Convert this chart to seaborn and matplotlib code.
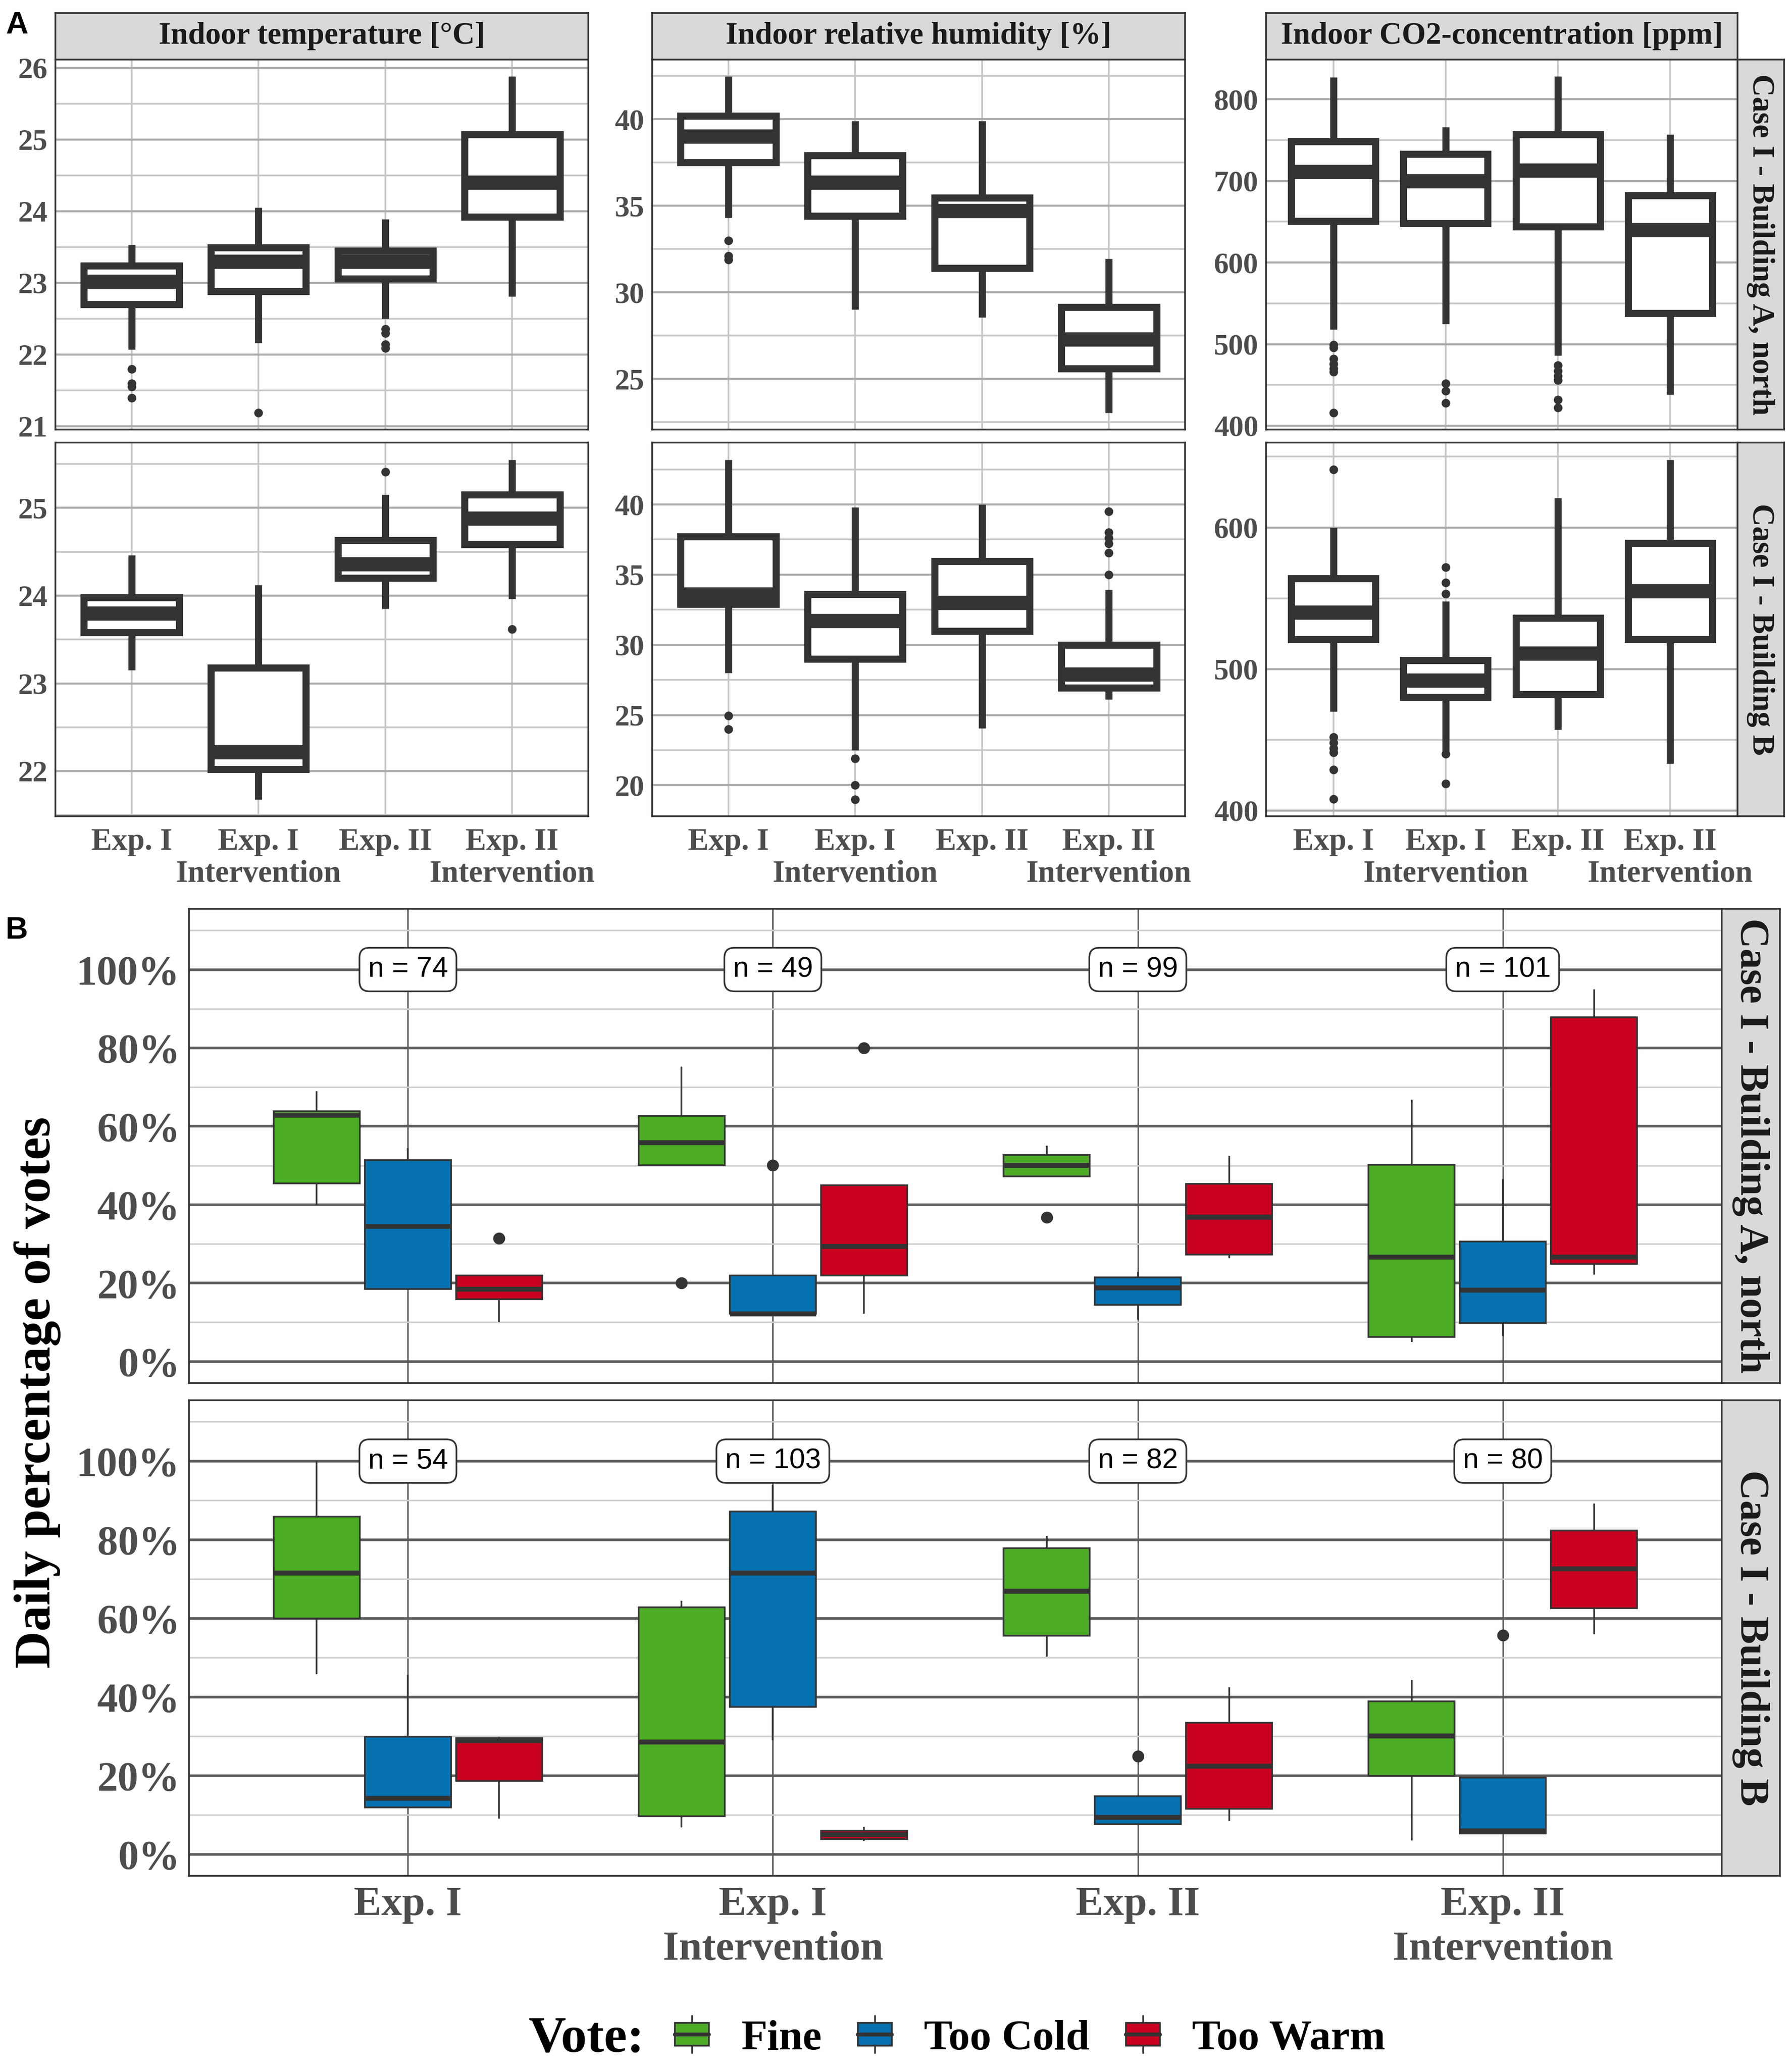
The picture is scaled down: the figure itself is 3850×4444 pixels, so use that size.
import numpy as np
import pandas as pd
import matplotlib
matplotlib.use('Agg')
import matplotlib.pyplot as plt
import seaborn as sns
from matplotlib.ticker import MultipleLocator, FixedLocator, FuncFormatter, FormatStrFormatter
from matplotlib.patches import Rectangle
from matplotlib.lines import Line2D
from matplotlib.legend_handler import HandlerBase

# ---------------------------------------------------------------- data
PHASES = ['Exp. I', 'Exp. I\nIntervention', 'Exp. II', 'Exp. II\nIntervention']
BUILDINGS = ['Case I - Building A, north', 'Case I - Building B']
VARIABLES = ['Indoor temperature [°C]', 'Indoor relative humidity [%]',
             'Indoor CO2-concentration [ppm]']
VOTES = ['Fine', 'Too Cold', 'Too Warm']
VOTE_COLORS = ['#4DAC26', '#0571B0', '#CA0020']

# box summaries per phase: (whisker low, q1, median, q3, whisker high)
temp_a = [(22.07, 22.70, 23.02, 23.24, 23.53), (22.16, 22.88, 23.30, 23.49, 24.05),
          (22.50, 23.06, 23.30, 23.45, 23.89), (22.81, 23.92, 24.40, 25.07, 25.88)]
temp_a_out = [[21.80, 21.60, 21.55, 21.40], [21.19], [22.36, 22.30, 22.14, 22.09], []]
temp_b = [(23.15, 23.58, 23.80, 23.98, 24.46), (21.68, 22.02, 22.22, 23.18, 24.12),
          (23.85, 24.20, 24.36, 24.63, 25.15), (23.96, 24.58, 24.88, 25.15, 25.55)]
temp_b_out = [[], [], [25.41], [23.62]]

hum_a = [(34.3, 37.5, 39.0, 40.2, 42.47), (29.0, 34.4, 36.35, 37.9, 39.9),
         (28.55, 31.4, 34.7, 35.45, 39.9), (23.05, 25.6, 27.3, 29.15, 31.95)]
hum_a_out = [[33.0, 32.1, 31.9], [], [], []]
hum_b = [(28.0, 32.9, 33.6, 37.7, 43.2), (22.5, 29.0, 31.7, 33.6, 39.8),
         (24.05, 31.0, 33.0, 35.95, 40.0), (26.1, 26.95, 27.9, 30.0, 33.95)]
hum_b_out = [[24.95, 24.0], [21.9, 20.0, 19.0], [], [39.5, 38.0, 37.6, 37.2, 36.55, 35.0]]

co2_a = [(518, 651, 711, 748, 827), (525, 648, 700, 733, 766),
         (486, 644, 713, 757, 828), (438, 538, 640, 682, 757)]
co2_a_out = [[499, 496, 482, 476, 470, 466, 416], [452, 443, 428],
             [474, 467, 461, 456, 432, 422], []]
co2_b = [(470, 521, 540, 564, 600), (442, 480, 492, 506, 548),
         (457, 482, 511, 536, 621), (433, 521, 555, 589, 648)]
co2_b_out = [[641, 452, 448, 444, 441, 429, 408], [572, 561, 553, 440, 419], [], []]

# daily share of thermal votes [%]
fine_a = [(40.0, 45.5, 62.9, 63.8, 68.9), (50.1, 50.1, 55.9, 62.6, 75.3),
          (47.2, 47.2, 50.1, 52.7, 55.1), (4.9, 6.3, 26.7, 50.2, 66.8)]
fine_a_out = [[], [20.0], [36.8], []]
cold_a = [(18.5, 18.5, 34.5, 51.4, 54.5), (12.2, 12.2, 12.2, 21.9, 21.9),
          (10.6, 14.4, 18.8, 21.5, 22.9), (6.5, 9.8, 18.2, 30.6, 46.5)]
cold_a_out = [[], [50.1], [], []]
warm_a = [(10.0, 15.9, 18.5, 21.9, 21.9), (12.2, 21.9, 29.4, 45.0, 45.0),
          (26.3, 27.3, 36.9, 45.3, 52.5), (22.2, 24.9, 26.7, 87.8, 94.9)]
warm_a_out = [[31.4], [80.0], [], []]

fine_b = [(45.8, 60.0, 71.6, 85.9, 100.0), (6.8, 9.6, 28.6, 62.8, 64.5),
          (50.3, 55.6, 66.9, 77.9, 80.9), (3.5, 19.9, 30.1, 38.9, 44.4)]
fine_b_out = [[], [], [], []]
cold_b = [(11.9, 11.9, 14.3, 29.9, 45.6), (28.9, 37.5, 71.6, 87.2, 94.0),
          (7.6, 7.6, 9.4, 14.7, 14.7), (5.3, 5.3, 6.0, 19.5, 19.5)]
cold_b_out = [[], [], [24.9], [55.7]]
warm_b = [(9.1, 18.6, 28.9, 29.5, 29.9), (3.4, 3.9, 5.0, 6.0, 6.9),
          (8.5, 11.6, 22.4, 33.4, 42.4), (55.9, 62.6, 72.6, 82.4, 89.2)]
warm_b_out = [[], [], [], []]

n_a = [74, 49, 99, 101]
n_b = [54, 103, 82, 80]

# ---------------------------------------------------------------- style
W, H = 3850, 4444
DARK = '#333333'
sns.set_style('white')
plt.rcParams['font.family'] = ['Liberation Serif', 'DejaVu Serif']
plt.rcParams['font.weight'] = 'bold'
plt.rcParams['text.color'] = '#1A1A1A'

fig = plt.figure(figsize=(W / 200, H / 200), dpi=200)


def px(x0, y0, x1, y1):
    return [x0 / W, 1 - y1 / H, (x1 - x0) / W, (y1 - y0) / H]


def box_rows(summaries, k=30):
    # rebuild a sample whose quartiles and extremes match the read summary
    rows = []
    for i, (lo, q1, med, q3, hi) in enumerate(summaries):
        vals = [lo] + [q1] * k + [med] * k + [q3] * k + [hi]
        rows += [(i, v) for v in vals]
    return rows


def strip(rect, text, size, rotation=0):
    s = fig.add_axes(px(*rect))
    s.set_facecolor('#D9D9D9')
    s.set_xticks([])
    s.set_yticks([])
    for sp in s.spines.values():
        sp.set_color(DARK)
        sp.set_linewidth(1.3)
    s.text(0.5, 0.5, text, ha='center', va='center', rotation=rotation,
           fontsize=size, color='#1A1A1A', transform=s.transAxes)


def frame(ax, major_col, minor_col, vert_col, major_lw, minor_lw, vert_lw):
    ax.grid(which='major', axis='y', color=major_col, lw=major_lw)
    ax.grid(which='minor', axis='y', color=minor_col, lw=minor_lw)
    ax.grid(which='major', axis='x', color=vert_col, lw=vert_lw)
    ax.set_axisbelow(True)
    for sp in ax.spines.values():
        sp.set_visible(True)
        sp.set_color(DARK)
        sp.set_linewidth(1.3)
    ax.set_xlabel('')
    ax.set_ylabel('')
    ax.set_xlim(-0.6, 3.6)
    ax.set_xticks(range(len(PHASES)))
    ax.tick_params(which='minor', length=0)


def phase_labels(ax, size, pad, second_line_offset):
    # first line as tick labels, the "Intervention" line as its own text
    ax.tick_params(axis='x', which='major', length=4, width=1.3, color=DARK,
                   labelsize=size, labelcolor='#4D4D4D', pad=pad)
    ax.set_xticklabels([p.split('\n')[0] for p in PHASES])
    for i, p in enumerate(PHASES):
        if '\n' in p:
            ax.annotate(p.split('\n')[1], xy=(i, 0), xycoords=('data', 'axes fraction'),
                        xytext=(0, -second_line_offset), textcoords='offset points',
                        ha='center', va='center', fontsize=size, color='#4D4D4D',
                        annotation_clip=False)


def env_panel(ax, boxes, outliers, step, bottom):
    df = pd.DataFrame(box_rows(boxes), columns=['pos', 'value'])
    sns.boxplot(data=df, x='pos', y='value', orient='x', native_scale=True,
                width=0.75, whis=(0, 100), showfliers=False, color='white',
                saturation=1, linecolor=DARK, linewidth=5.5,
                medianprops={'linewidth': 11}, capprops={'visible': False}, ax=ax)
    out = pd.DataFrame([(i, v) for i, vs in enumerate(outliers) for v in vs],
                       columns=['pos', 'value'])
    if len(out):
        sns.scatterplot(data=out, x='pos', y='value', color=DARK, s=45,
                        linewidth=0, ax=ax, zorder=4, legend=False)
    allv = list(df['value']) + list(out['value'])
    lo, hi = min(allv), max(allv)
    pad = 0.05 * (hi - lo)
    ax.set_ylim(lo - pad, hi + pad)
    ax.yaxis.set_major_locator(MultipleLocator(step))
    ax.yaxis.set_minor_locator(MultipleLocator(step / 2))
    ax.yaxis.set_major_formatter(FormatStrFormatter('%d'))
    frame(ax, '#ABABAB', '#C6C6C6', '#C6C6C6', 1.6, 1.3, 1.3)
    ax.tick_params(axis='y', which='major', length=3, width=1.3, color=DARK,
                   labelsize=23, labelcolor='#4D4D4D', pad=3)
    if bottom:
        phase_labels(ax, 24, 5, 45)
    else:
        ax.tick_params(axis='x', bottom=False, labelbottom=False)


def vote_panel(ax, boxes, outliers, counts, bottom):
    rows, out = [], []
    for j, vote in enumerate(VOTES):
        rows += [(i, vote, v) for i, v in box_rows(boxes[j])]
        out += [(i + (j - 1) * 0.25, v) for i, vs in enumerate(outliers[j]) for v in vs]
    df = pd.DataFrame(rows, columns=['pos', 'vote', 'value'])
    sns.boxplot(data=df, x='pos', y='value', hue='vote', hue_order=VOTES,
                palette=dict(zip(VOTES, VOTE_COLORS)), orient='x', native_scale=True,
                width=0.75, gap=0.06, whis=(0, 100), showfliers=False, saturation=1,
                linecolor=DARK, linewidth=1.3, medianprops={'linewidth': 3.8},
                capprops={'visible': False}, legend=False, ax=ax)
    out = pd.DataFrame(out, columns=['pos', 'value'])
    if len(out):
        sns.scatterplot(data=out, x='pos', y='value', color=DARK, s=85,
                        linewidth=0, ax=ax, zorder=4, legend=False)
    for i, n in enumerate(counts):
        ax.text(i, 100, f'n = {n}', ha='center', va='center', fontsize=22,
                family='Liberation Sans', fontweight='normal', color='black', zorder=6,
                bbox=dict(boxstyle='round,pad=0.3,rounding_size=0.35', fc='white',
                          ec=DARK, lw=1.3))
    ax.set_ylim(-5.5, 115.5)
    ax.yaxis.set_major_locator(MultipleLocator(20))
    ax.yaxis.set_minor_locator(FixedLocator(np.arange(10, 111, 20)))
    ax.yaxis.set_major_formatter(FuncFormatter(lambda v, _: f'{v:.0f}%'))
    frame(ax, '#5C5C5C', '#CFCFCF', '#5C5C5C', 2.0, 1.2, 1.2)
    ax.tick_params(axis='y', which='major', length=4, width=1.3, color=DARK,
                   labelsize=32, labelcolor='#4D4D4D', pad=3)
    if bottom:
        phase_labels(ax, 32, 4, 57)
    else:
        ax.tick_params(axis='x', bottom=False, labelbottom=False)


# ---------------------------------------------------------------- panel A
COLS_A = [(119, 1264), (1401, 2546), (2720, 3733)]
ROWS_A = [(128, 923), (951, 1754)]
env_data = [[(temp_a, temp_a_out), (temp_b, temp_b_out)],
            [(hum_a, hum_a_out), (hum_b, hum_b_out)],
            [(co2_a, co2_a_out), (co2_b, co2_b_out)]]
env_steps = [1, 5, 100]

for c, (x0, x1) in enumerate(COLS_A):
    strip((x0, 28, x1, 128), VARIABLES[c], 24)
    for r, (y0, y1) in enumerate(ROWS_A):
        ax = fig.add_axes(px(x0, y0, x1, y1))
        boxes, outliers = env_data[c][r]
        env_panel(ax, boxes, outliers, env_steps[c], bottom=(r == 1))
for r, (y0, y1) in enumerate(ROWS_A):
    strip((3733, y0, 3833, y1), BUILDINGS[r], 24, rotation=-90)

fig.text(12 / W, 1 - 55 / H, 'A', fontsize=24, fontweight='bold',
         family='Liberation Sans', color='black', ha='left', va='center')

# ---------------------------------------------------------------- panel B
ROWS_B = [(1953, 2972), (3009, 4031)]
vote_data = [([fine_a, cold_a, warm_a], [fine_a_out, cold_a_out, warm_a_out], n_a),
             ([fine_b, cold_b, warm_b], [fine_b_out, cold_b_out, warm_b_out], n_b)]
for r, (y0, y1) in enumerate(ROWS_B):
    ax = fig.add_axes(px(406, y0, 3699, y1))
    boxes, outliers, counts = vote_data[r]
    vote_panel(ax, boxes, outliers, counts, bottom=(r == 1))
    strip((3699, y0, 3824, y1), BUILDINGS[r], 32, rotation=-90)

fig.text(12 / W, 1 - 2000 / H, 'B', fontsize=24, fontweight='bold',
         family='Liberation Sans', color='black', ha='left', va='center')
fig.text(80 / W, 1 - 2992 / H, 'Daily percentage of votes', rotation=90,
         ha='center', va='center', fontsize=40, color='black')


# legend with small boxplot keys
class BoxKey(HandlerBase):
    def create_artists(self, legend, orig_handle, xdescent, ydescent, width,
                       height, fontsize, trans):
        x0, y0 = -xdescent, -ydescent
        cx = x0 + width / 2
        whisker = Line2D([cx, cx], [y0 - 0.15 * height, y0 + 1.15 * height],
                         color=DARK, lw=1.3, transform=trans)
        box = Rectangle((x0, y0 + 0.1 * height), width, 0.8 * height,
                        facecolor=orig_handle.get_facecolor(), edgecolor=DARK,
                        lw=1.3, transform=trans)
        median = Line2D([x0, x0 + width], [y0 + height / 2] * 2, color=DARK,
                        lw=3, transform=trans)
        return [whisker, box, median]


handles = [Rectangle((0, 0), 1, 1, facecolor=c) for c in VOTE_COLORS]
fig.text(1385 / W, 1 - 4382 / H, 'Vote:', ha='right', va='center', fontsize=40,
         color='black')
fig.legend(handles, VOTES, loc='center left', bbox_to_anchor=(1450 / W, 1 - 4382 / H),
           ncol=3, frameon=False, handler_map={Rectangle: BoxKey()},
           prop={'family': 'Liberation Serif', 'weight': 'bold', 'size': 33},
           labelcolor='black', handlelength=0.8, handleheight=0.65,
           handletextpad=0.75, columnspacing=0.85, borderpad=0, borderaxespad=0)

fig.savefig('out.png', dpi=200)
